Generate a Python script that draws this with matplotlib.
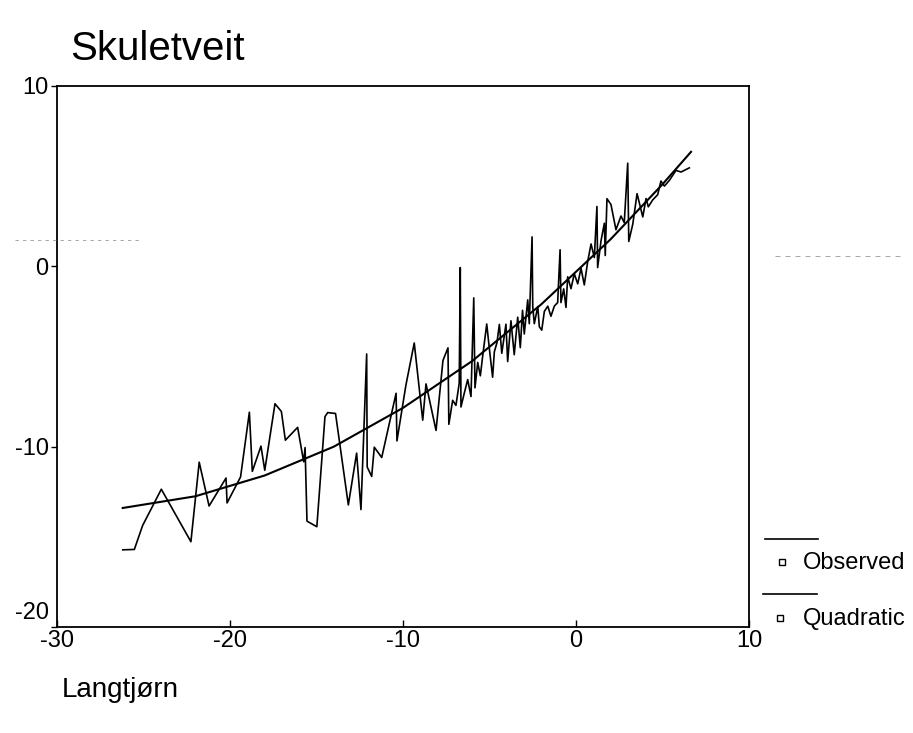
import matplotlib
matplotlib.use("Agg")
import matplotlib.pyplot as plt
from matplotlib.lines import Line2D
from matplotlib.transforms import ScaledTranslation

plt.rcParams["font.family"] = ["Liberation Sans", "DejaVu Sans"]
plt.rcParams["axes.unicode_minus"] = False

# Observed series (Langtjørn on x, Skuletveit on y)
OBS_X = [-26.20, -25.53, -25.05, -23.97, -22.26, -21.78, -21.21, -20.23, -20.17, -19.39,
         -18.88, -18.71, -18.21, -17.99, -17.40, -17.03, -16.80, -16.09, -15.74, -15.66,
         -15.55, -14.98, -14.51, -14.35, -13.90, -13.16, -12.68, -12.43, -12.10, -12.07,
         -11.81, -11.66, -11.23, -10.40, -10.35, -9.83, -9.35, -8.86, -8.67, -8.09,
         -7.69, -7.40, -7.35, -7.13, -6.94, -6.75, -6.69, -6.65, -6.46, -6.26,
         -6.07, -5.91, -5.84, -5.68, -5.53, -5.39, -5.16, -5.01, -4.82, -4.72,
         -4.57, -4.43, -4.29, -4.05, -3.95, -3.76, -3.57, -3.37, -3.22, -3.09,
         -2.99, -2.79, -2.70, -2.54, -2.50, -2.41, -2.21, -2.12, -1.98, -1.83,
         -1.63, -1.45, -1.25, -1.06, -0.92, -0.87, -0.71, -0.58, -0.48, -0.29,
         -0.10, 0.10, 0.29, 0.48, 0.68, 0.87, 1.06, 1.21, 1.25, 1.45,
         1.64, 1.69, 1.79, 2.02, 2.31, 2.60, 2.79, 2.99, 3.05, 3.28,
         3.53, 3.86, 4.05, 4.18, 4.43, 4.72, 4.91, 5.11, 5.40, 5.78,
         6.07, 6.55]
OBS_Y = [-15.72, -15.70, -14.37, -12.36, -15.27, -10.86, -13.29, -11.74, -13.12, -11.68,
         -8.09, -11.37, -9.97, -11.31, -7.62, -8.05, -9.64, -8.93, -10.84, -10.05,
         -14.13, -14.44, -8.33, -8.11, -8.16, -13.23, -10.36, -13.49, -4.86, -11.13,
         -11.65, -10.03, -10.60, -7.04, -9.68, -6.58, -4.25, -8.53, -6.52, -9.10,
         -5.22, -4.52, -8.76, -7.43, -7.71, -6.48, -0.07, -7.80, -7.04, -6.28,
         -7.22, -1.75, -6.74, -5.33, -6.07, -4.94, -3.20, -4.55, -6.15, -4.74,
         -4.24, -3.22, -4.82, -3.21, -5.28, -3.02, -4.90, -2.82, -4.51, -2.44,
         -3.75, -1.86, -3.18, 1.63, -2.23, -3.18, -2.23, -3.35, -3.54, -2.50,
         -2.21, -2.77, -2.20, -2.01, 0.92, -2.01, -1.25, -2.28, -0.58, -1.24,
         -0.41, -0.97, -0.11, -1.03, 0.29, 1.24, 0.49, 3.32, -0.07, 1.44,
         2.39, 0.60, 3.75, 3.43, 2.03, 2.79, 2.42, 5.72, 1.38, 2.33,
         4.03, 2.74, 3.76, 3.30, 3.68, 3.97, 4.73, 4.45, 4.77, 5.32,
         5.23, 5.46]

# Quadratic fit curve
QUAD_X = [-26.2, -22, -18, -14, -10, -6, -2, 2, 5, 6.65]
QUAD_Y = [-13.4, -12.75, -11.6, -10.0, -7.85, -5.25, -2.1, 1.5, 4.55, 6.35]

X_TICKS = [-30, -20, -10, 0, 10]
Y_TICKS = [-20, -10, 0, 10]

W, H = 913, 733


def fx(px):
    return px / W


def fy(py):
    return 1 - py / H


fig = plt.figure(figsize=(W / 100, H / 100), dpi=100)
fig.patch.set_facecolor("white")
ax = fig.add_axes([fx(57), fy(627), fx(749) - fx(57), fy(86) - fy(627)])

ax.plot(OBS_X, OBS_Y, color="black", linewidth=1.2)
ax.plot(QUAD_X, QUAD_Y, color="black", linewidth=1.5)

ax.set_xlim(-30, 10)
ax.set_ylim(-20, 10)
ax.set_xticks(X_TICKS)
ax.set_yticks(Y_TICKS)
ax.tick_params(labelsize=17, width=1)
ax.tick_params(axis="x", direction="in", length=5, pad=2)
ax.tick_params(axis="y", direction="out", length=4, pad=2)
for s in ax.spines.values():
    s.set_linewidth(1.3)

# the bottom y label sits a little above its tick, clear of "-30"
low = ax.get_yticklabels()[0]
low.set_transform(low.get_transform() + ScaledTranslation(0, 12 / 72, fig.dpi_scale_trans))

# titles
fig.text(fx(70), fy(60), "Skuletveit", fontsize=29, va="baseline", ha="left")
fig.text(fx(62), fy(697), "Langtjørn", fontsize=20, va="baseline", ha="left")

# hand-made legend, outside right
fig.add_artist(Line2D([fx(765), fx(818)], [fy(539), fy(539)], color="black", lw=1.2))
fig.add_artist(Line2D([fx(782)], [fy(562)], marker="s", markersize=4.5,
                      markerfacecolor="white", markeredgecolor="black", markeredgewidth=1.0))
fig.text(fx(803), fy(563), "Observed", fontsize=17, va="center", ha="left")
fig.add_artist(Line2D([fx(763), fx(817)], [fy(594), fy(594)], color="black", lw=1.2))
fig.add_artist(Line2D([fx(780)], [fy(618)], marker="s", markersize=4.5,
                      markerfacecolor="white", markeredgecolor="black", markeredgewidth=1.0))
fig.text(fx(803), fy(619), "Quadratic", fontsize=17, va="center", ha="left")

# faint scanner streaks
fig.add_artist(Line2D([fx(15), fx(140)], [fy(240), fy(240)], color="#999999",
                      lw=0.6, linestyle=(0, (4, 5))))
fig.add_artist(Line2D([fx(775), fx(905)], [fy(256), fy(256)], color="#999999",
                      lw=0.6, linestyle=(0, (6, 6))))

fig.savefig("out.png", dpi=100, facecolor="white")
